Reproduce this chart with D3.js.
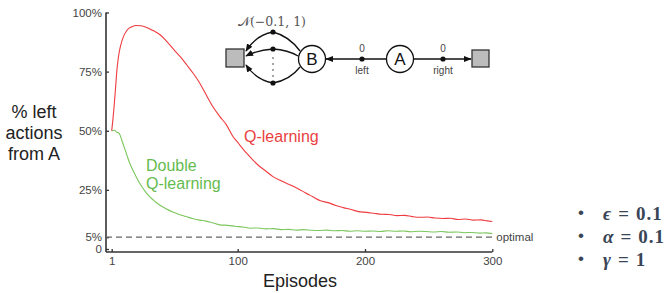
<!DOCTYPE html>
<html>
<head>
<meta charset="utf-8">
<title>Q-learning vs Double Q-learning</title>
<style>
  body { margin: 0; background: #fff; }
  text { font-family: "Liberation Sans", Arial, sans-serif; }
  .axis path { display: none; }
  .axis line { stroke: #333; stroke-width: 1.3; }
  .axis text { fill: #444; font-size: 11.5px; }
  .frame { stroke: #333; stroke-width: 1.6; }
  .curve { fill: none; stroke-width: 1.1; }
</style>
</head>
<body>
<script src="https://cdn.jsdelivr.net/npm/d3@7"></script>
<script>
// values (percent of left actions from A)
var qEpisodes = [1,2,3,4,5,6,7,8,10,13,17,20,24,28,31,35,39,44,50,55,60,65,70,75,80,86,91,96,101,107,112,117,122,128,134,140,147,153,159,165,171,177,183,189,195,201,207,213,219,225,231,237,243,249,255,261,267,273,279,285,291,296,300];
var qValues   = [50,55,61,68,75,80,83.5,86,89.5,92.5,94,94.5,94.4,93.8,93,92,90.6,87.9,84.2,81.2,77.8,74.3,70.3,65.4,60.6,56,52.6,47.8,44.4,40.5,37.6,35,33,30.5,28.9,27.4,25.6,23.8,22.1,20.4,19.6,18.4,17.5,16.7,15.8,15.5,15.1,14.7,14.6,14.1,14.2,13.7,13.4,13.5,13.1,12.9,13.0,12.5,12.7,12.2,12.3,11.9,11.6];

var dqEpisodes = [1,3,5,7,8,10,13,15,18,20,23,27,31,35,39,44,49,54,60,65,70,75,80,86,92,98,104,110,116,122,128,134,140,146,152,158,164,170,176,182,188,194,200,206,212,218,224,230,236,242,248,254,260,266,272,278,284,290,295,300];
var dqValues   = [50,50.2,49.4,48.8,47.5,44.3,39.6,36.5,33,30.8,27.8,24.6,22,20.1,18.5,16.9,15.6,14.6,13.6,12.8,12.2,11.8,11.1,10.2,10.0,9.6,9.3,8.8,8.9,8.5,8.6,8.2,8.3,8.0,8.2,7.9,7.8,8.0,7.7,7.8,7.5,7.7,7.5,7.6,7.4,7.7,7.5,7.6,7.3,7.5,7.4,7.2,7.4,7.1,7.2,6.9,7.0,6.7,6.8,6.5];

var yTicks = [0, 5, 25, 50, 75, 100];
var yTickLabels = ["0", "5%", "25%", "50%", "75%", "100%"];
var xTicks = [1, 100, 200, 300];
var optimal = 5;

var width = 671, height = 293;

var svg = d3.select("body").append("svg")
  .attr("width", width)
  .attr("height", height);

svg.append("rect").attr("width", width).attr("height", height).attr("fill", "#fff");

var x = d3.scaleLinear().domain([1, 300]).range([111.7, 492.3]);
var y = d3.scaleLinear().domain([0, 100]).range([249, 12.5]);

var axisLeftX = 106, axisBottomY = 252;

// frame lines
svg.append("line").attr("class", "frame")
  .attr("x1", axisLeftX).attr("x2", axisLeftX)
  .attr("y1", y(100)).attr("y2", axisBottomY);
svg.append("line").attr("class", "frame")
  .attr("x1", axisLeftX).attr("x2", x(300))
  .attr("y1", axisBottomY).attr("y2", axisBottomY);

// y axis (ticks point inward)
var yAxis = svg.append("g")
  .attr("class", "axis")
  .attr("transform", "translate(" + axisLeftX + ",0)")
  .call(d3.axisLeft(y).tickValues(yTicks)
    .tickFormat(function(d, i){ return yTickLabels[i]; })
    .tickSize(-3).tickPadding(4));

// x axis (ticks point up)
var xAxis = svg.append("g")
  .attr("class", "axis")
  .attr("transform", "translate(0," + axisBottomY + ")")
  .call(d3.axisBottom(x).tickValues(xTicks).tickSize(-3).tickPadding(6));
xAxis.selectAll("text").attr("dy", "0.71em").attr("y", 5);

// optimal line
svg.append("line")
  .attr("x1", axisLeftX).attr("x2", x(300))
  .attr("y1", y(optimal)).attr("y2", y(optimal))
  .attr("stroke", "#666").attr("stroke-width", 1.2)
  .attr("stroke-dasharray", "6,4");
svg.append("text")
  .attr("x", x(300) + 4).attr("y", y(optimal) + 4)
  .attr("fill", "#444").style("font-size", "11.5px")
  .text("optimal");

var line = d3.line()
  .curve(d3.curveMonotoneX)
  .x(function(d){ return x(d[0]); })
  .y(function(d){ return y(d[1]); });

svg.append("path").attr("class", "curve")
  .attr("stroke", "#7cc75e")
  .attr("d", line(d3.zip(dqEpisodes, dqValues)));
svg.append("path").attr("class", "curve")
  .attr("stroke", "#ef3b3f")
  .attr("d", line(d3.zip(qEpisodes, qValues)));

// curve labels
svg.append("text").attr("x", 244).attr("y", 142)
  .attr("fill", "#ea3f3f").style("font-size", "16px").text("Q-learning");
svg.append("text").attr("x", 146).attr("y", 171)
  .attr("fill", "#66bb4f").style("font-size", "16px").text("Double");
svg.append("text").attr("x", 146).attr("y", 189)
  .attr("fill", "#66bb4f").style("font-size", "16px").text("Q-learning");

// axis titles
var yTitle = ["% left", "actions", "from A"];
svg.selectAll(".ytitle").data(yTitle).enter().append("text")
  .attr("class", "ytitle")
  .attr("x", 34).attr("y", function(d, i){ return 118 + i * 21; })
  .attr("text-anchor", "middle")
  .attr("fill", "#222").style("font-size", "18px")
  .text(function(d){ return d; });

svg.append("text").attr("x", 300).attr("y", 287)
  .attr("text-anchor", "middle").attr("fill", "#222")
  .style("font-size", "18px").text("Episodes");

// MDP diagram
var defs = svg.append("defs");
defs.append("marker").attr("id", "arr")
  .attr("viewBox", "0 0 10 10").attr("refX", 9).attr("refY", 5)
  .attr("markerWidth", 6).attr("markerHeight", 6)
  .attr("orient", "auto-start-reverse")
  .append("path").attr("d", "M0,1 L10,5 L0,9 z").attr("fill", "#111");

var dg = svg.append("g").attr("stroke", "#111").attr("stroke-width", 1.3);

dg.append("rect").attr("x", 226).attr("y", 49).attr("width", 18).attr("height", 18)
  .attr("fill", "#bcbcbc").attr("stroke", "#333");
dg.append("rect").attr("x", 472).attr("y", 50).attr("width", 17).attr("height", 17)
  .attr("fill", "#bcbcbc").attr("stroke", "#333");

var branches = [
  "M300,51 Q289,36 273,32 Q256,35 246,51",
  "M298,56 Q288,50 273,49 Q258,50 246,56",
  "M300,67 Q290,80 273,83 Q256,80 246,65"
];
dg.selectAll(".br").data(branches).enter().append("path")
  .attr("class", "br").attr("d", function(d){ return d; })
  .attr("fill", "none").attr("marker-end", "url(#arr)");

dg.append("line").attr("x1", 386).attr("x2", 326).attr("y1", 59).attr("y2", 59)
  .attr("marker-end", "url(#arr)");
dg.append("line").attr("x1", 414).attr("x2", 471).attr("y1", 59).attr("y2", 59)
  .attr("marker-end", "url(#arr)");

dg.selectAll(".dot").data([[273,32],[273,49],[273,83],[362,59],[443,59]]).enter()
  .append("circle").attr("class", "dot")
  .attr("cx", function(d){ return d[0]; }).attr("cy", function(d){ return d[1]; })
  .attr("r", 2.6).attr("fill", "#111").attr("stroke", "none");
dg.selectAll(".vdot").data([58, 64, 70, 76]).enter()
  .append("circle").attr("class", "vdot")
  .attr("cx", 273).attr("cy", function(d){ return d; })
  .attr("r", 0.8).attr("fill", "#333").attr("stroke", "none");

dg.append("circle").attr("cx", 312).attr("cy", 59).attr("r", 13.5).attr("fill", "#fff");
dg.append("circle").attr("cx", 400).attr("cy", 59).attr("r", 13.5).attr("fill", "#fff");

var lab = svg.append("g").attr("text-anchor", "middle");
lab.append("text").attr("x", 312).attr("y", 65).style("font-size", "17px").attr("fill", "#111").text("B");
lab.append("text").attr("x", 400).attr("y", 65).style("font-size", "17px").attr("fill", "#111").text("A");
lab.append("text").attr("x", 362).attr("y", 52).style("font-size", "10px").attr("fill", "#444").text("0");
lab.append("text").attr("x", 443).attr("y", 52).style("font-size", "10px").attr("fill", "#444").text("0");
lab.append("text").attr("x", 362).attr("y", 74).style("font-size", "10px").attr("fill", "#444").text("left");
lab.append("text").attr("x", 443).attr("y", 74).style("font-size", "10px").attr("fill", "#444").text("right");
lab.append("text").attr("x", 272).attr("y", 26).style("font-size", "12.5px")
  .style("font-family", "'DejaVu Serif', serif").attr("fill", "#555").text("\u{1D4A9}(\u22120.1, 1)");

// parameter bullets
var params = [["\u03f5", "=", "0.1"], ["\u03b1", "=", "0.1"], ["\u03b3", "=", "1"]];
var pg = svg.append("g").attr("fill", "#3a4556");
params.forEach(function(p, i){
  var yy = 219.5 + i * 23;
  pg.append("text").attr("x", 578).attr("y", yy - 2).style("font-size", "17px").text("\u2022");
  var t = pg.append("text").attr("x", 603).attr("y", yy)
    .style("font-family", "'Liberation Serif', serif").style("font-size", "19px").style("font-weight", "bold");
  t.append("tspan").style("font-style", "italic").text(p[0]);
  t.append("tspan").attr("dx", 7).text(p[1]);
  t.append("tspan").attr("dx", 7).attr("letter-spacing", 1).text(p[2]);
});
</script>
</body>
</html>
